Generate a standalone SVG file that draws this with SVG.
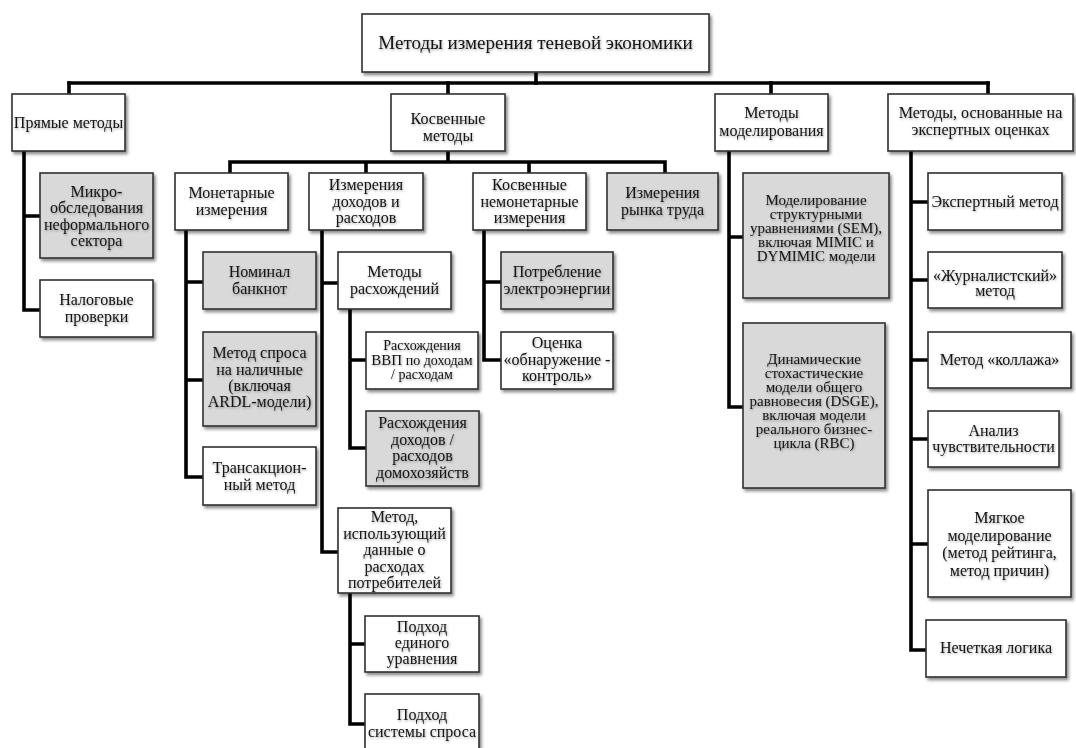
<svg xmlns="http://www.w3.org/2000/svg" width="1076" height="748" viewBox="0 0 1076 748">
<defs>
<filter id="sh" x="-10%" y="-10%" width="130%" height="130%">
<feDropShadow dx="2" dy="2.5" stdDeviation="1.5" flood-color="#000" flood-opacity="0.45"/>
</filter>
<filter id="ts" x="-5%" y="-20%" width="110%" height="150%">
<feDropShadow dx="0.8" dy="1.2" stdDeviation="0.9" flood-color="#000" flood-opacity="0.35"/>
</filter>
</defs>
<style>
.b{fill:#fff;stroke:#303030;stroke-width:1.6;filter:url(#sh)}
.g{fill:#d9d9d9;stroke:#303030;stroke-width:1.6;filter:url(#sh)}
text{font-family:"Liberation Serif","Times New Roman",serif;font-size:16px;fill:#141414;text-anchor:middle;filter:url(#ts)}
.s15{font-size:15px}
.s14{font-size:14px}
.c{fill:none;stroke:#000;stroke-width:3.6;stroke-linecap:square;stroke-linejoin:miter}
</style>
<rect width="1076" height="748" fill="#fff"/>

<g id="connectors" class="c">
<path d="M536 72V83"/>
<path d="M69 83H988"/>
<path d="M69 83V94M448 83V94M771 83V94M988 83V94"/>
<path d="M24 151V310H40M24 216H40"/>
<path d="M448 151V162M230 162H665M230 162V173M366 162V173M529 162V173M665 162V173"/>
<path d="M186 230V477H203M186 282H203M186 380H203"/>
<path d="M322 230V552H338M322 283H338"/>
<path d="M350 309V448H366M350 360H366"/>
<path d="M350 593V724H365M350 644H365"/>
<path d="M484 230V360H501M484 282H501"/>
<path d="M729 151V407H743M729 237H743"/>
<path d="M911 151V650H926M911 202H928M911 280H928M911 360H928M911 439H928M911 544H928"/>
</g>

<g id="root"><rect class="b" x="362" y="14" width="347" height="58"/><text x="535.5" y="49" style="font-size:19px">Методы измерения теневой экономики</text></g>

<g id="direct"><rect class="b" x="12" y="94" width="113" height="57"/><text x="68.5" y="128">Прямые методы</text></g>
<g id="indirect"><rect class="b" x="391" y="94" width="114" height="57"/><text x="448"><tspan x="448" y="124">Косвенные</tspan><tspan x="448" y="141">методы</tspan></text></g>
<g id="modeling"><rect class="b" x="715" y="94" width="113" height="57"/><text x="771.5"><tspan x="771.5" y="118">Методы</tspan><tspan x="771.5" y="136">моделирования</tspan></text></g>
<g id="expert"><rect class="b" x="888" y="94" width="185" height="57"/><text x="980.5"><tspan x="980.5" y="118">Методы,  основанные на</tspan><tspan x="980.5" y="135">экспертных  оценках</tspan></text></g>

<g id="micro"><rect class="g" x="40" y="173" width="113" height="85"/><text x="96.5"><tspan x="96.5" y="197">Микро-</tspan><tspan x="96.5" y="213">обследования</tspan><tspan x="96.5" y="229.5">неформального</tspan><tspan x="96.5" y="246">сектора</tspan></text></g>
<g id="tax"><rect class="b" x="40" y="280" width="113" height="57"/><text x="96.5"><tspan x="96.5" y="305">Налоговые</tspan><tspan x="96.5" y="322">проверки</tspan></text></g>

<g id="monetary"><rect class="b" x="175" y="173" width="113" height="57"/><text x="231.5"><tspan x="231.5" y="198">Монетарные</tspan><tspan x="231.5" y="215">измерения</tspan></text></g>
<g id="income"><rect class="b" x="309" y="173" width="114" height="57"/><text x="366"><tspan x="366" y="190">Измерения</tspan><tspan x="366" y="206.5">доходов  и</tspan><tspan x="366" y="223">расходов</tspan></text></g>
<g id="nonmonetary"><rect class="b" x="473" y="173" width="113" height="57"/><text x="529.5"><tspan x="529.5" y="190">Косвенные</tspan><tspan x="529.5" y="206.5">немонетарные</tspan><tspan x="529.5" y="223">измерения</tspan></text></g>
<g id="labor"><rect class="g" x="607" y="173" width="111" height="57"/><text x="662.5"><tspan x="662.5" y="198">Измерения</tspan><tspan x="662.5" y="215">рынка труда</tspan></text></g>

<g id="banknote"><rect class="g" x="203" y="252" width="113" height="57"/><text x="259.5"><tspan x="259.5" y="277">Номинал</tspan><tspan x="259.5" y="293.5">банкнот</tspan></text></g>
<g id="cashdemand"><rect class="g" x="203" y="332" width="113" height="94"/><text x="259.5"><tspan x="259.5" y="358">Метод спроса</tspan><tspan x="259.5" y="374.5">на наличные</tspan><tspan x="259.5" y="391">(включая</tspan><tspan x="259.5" y="407">ARDL-модели)</tspan></text></g>
<g id="transaction"><rect class="b" x="203" y="447" width="113" height="58"/><text x="259.5"><tspan x="259.5" y="473">Трансакцион-</tspan><tspan x="259.5" y="490">ный метод</tspan></text></g>

<g id="discrepancy"><rect class="b" x="338" y="252" width="113" height="57"/><text x="394.5"><tspan x="394.5" y="277">Методы</tspan><tspan x="394.5" y="293.5">расхождений</tspan></text></g>
<g id="gdp"><rect class="b" x="366" y="332" width="112" height="57"/><text class="s14" x="422"><tspan x="422" y="350">Расхождения</tspan><tspan x="422" y="365"><tspan style="font-size:15px">ВВП</tspan> по доходам</tspan><tspan x="422" y="379">/ расходам</tspan></text></g>
<g id="household"><rect class="g" x="366" y="411" width="113" height="75"/><text x="422.5"><tspan x="422.5" y="428">Расхождения</tspan><tspan x="422.5" y="444.5">доходов  /</tspan><tspan x="422.5" y="461">расходов</tspan><tspan x="422.5" y="477.5">домохозяйств</tspan></text></g>
<g id="consumer"><rect class="b" x="338" y="508" width="113" height="85"/><text x="394.5"><tspan x="394.5" y="522">Метод,</tspan><tspan x="394.5" y="538.5">использующий</tspan><tspan x="394.5" y="555">данные  о</tspan><tspan x="394.5" y="571.5">расходах</tspan><tspan x="394.5" y="588">потребителей</tspan></text></g>
<g id="single"><rect class="b" x="365" y="616" width="114" height="56"/><text x="422"><tspan x="422" y="632">Подход</tspan><tspan x="422" y="648">единого</tspan><tspan x="422" y="664">уравнения</tspan></text></g>
<g id="system"><rect class="b" x="365" y="694" width="114" height="70"/><text x="422"><tspan x="422" y="720">Подход</tspan><tspan x="422" y="737">системы спроса</tspan></text></g>

<g id="electricity"><rect class="g" x="501" y="252" width="112" height="57"/><text x="557"><tspan x="557" y="277">Потребление</tspan><tspan x="557" y="293.5">электроэнергии</tspan></text></g>
<g id="detection"><rect class="b" x="501" y="332" width="112" height="57"/><text x="557"><tspan x="557" y="348">Оценка</tspan><tspan x="557" y="364.5">«обнаружение -</tspan><tspan x="557" y="381">контроль»</tspan></text></g>

<g id="sem"><rect class="g" x="743" y="173" width="146" height="125"/><text class="s15" x="816"><tspan x="816" y="205">Моделирование</tspan><tspan x="816" y="219">структурными</tspan><tspan x="816" y="233">уравнениями (SEM),</tspan><tspan x="816" y="247">включая MIMIC и</tspan><tspan x="816" y="261">DYMIMIC  модели</tspan></text></g>
<g id="dsge"><rect class="g" x="743" y="323" width="142" height="165"/><text class="s15" x="814"><tspan x="814" y="364">Динамические</tspan><tspan x="814" y="378">стохастические</tspan><tspan x="814" y="392">модели общего</tspan><tspan x="814" y="406">равновесия (DSGE),</tspan><tspan x="814" y="420">включая модели</tspan><tspan x="814" y="434">реального бизнес-</tspan><tspan x="814" y="448">цикла (RBC)</tspan></text></g>

<g id="expertmethod"><rect class="b" x="928" y="173" width="134" height="57"/><text x="995" y="207">Экспертный метод</text></g>
<g id="journalist"><rect class="b" x="928" y="252" width="134" height="56"/><text x="995"><tspan x="995" y="281">«Журналистский»</tspan><tspan x="995" y="296">метод</tspan></text></g>
<g id="collage"><rect class="b" x="928" y="332" width="143" height="56"/><text x="999.5" y="365">Метод «коллажа»</text></g>
<g id="sensitivity"><rect class="b" x="928" y="411" width="131" height="56"/><text x="993.5"><tspan x="993.5" y="436">Анализ</tspan><tspan x="993.5" y="452">чувствительности</tspan></text></g>
<g id="soft"><rect class="b" x="928" y="490" width="143" height="107"/><text x="999.5"><tspan x="999.5" y="523">Мягкое</tspan><tspan x="999.5" y="540.5">моделирование</tspan><tspan x="999.5" y="558">(метод рейтинга,</tspan><tspan x="999.5" y="575.5">метод причин)</tspan></text></g>
<g id="fuzzy"><rect class="b" x="926" y="620" width="140" height="57"/><text x="996" y="653">Нечеткая логика</text></g>
</svg>
